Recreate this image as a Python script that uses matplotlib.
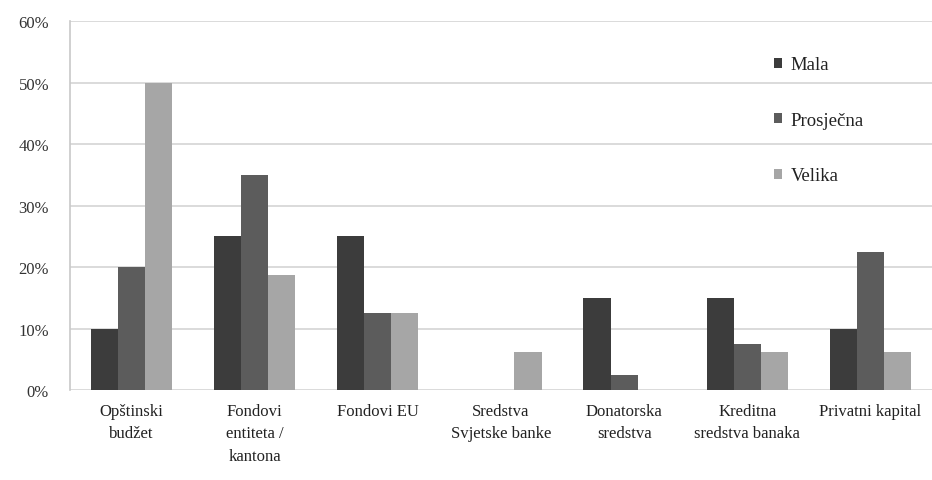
import numpy as np
import matplotlib.pyplot as plt
from matplotlib.ticker import PercentFormatter

# --- DATA ---
categories = ["Opštinski\nbudžet", "Fondovi\nentiteta /\nkantona", "Fondovi EU",
              "Sredstva\nSvjetske banke", "Donatorska\nsredstva",
              "Kreditna\nsredstva banaka", "Privatni kapital"]
series_names = ["Mala", "Prosječna", "Velika"]
mala = [10, 25, 25, 0, 15, 15, 10]
prosjecna = [20, 35, 12.5, 0, 2.5, 7.5, 22.5]
velika = [50, 18.75, 12.5, 6.25, 0, 6.25, 6.25]
colors = ["#3c3c3c", "#5c5c5c", "#a6a6a6"]

plt.rcParams['font.family'] = ['Liberation Serif', 'DejaVu Serif']

fig = plt.figure(figsize=(9.32, 4.81), dpi=100)
ax = fig.add_axes([0.075, 0.187, 0.925, 0.767])

x = np.arange(len(categories))
w = 0.22
for i, (vals, name) in enumerate(zip([mala, prosjecna, velika], series_names)):
    ax.bar(x + (i - 1) * w, vals, width=w, color=colors[i], label=name, zorder=3)

ax.set_xlim(-0.5, len(categories) - 0.5)
ax.set_ylim(0, 60)
ax.set_yticks(np.arange(0, 61, 10))
ax.yaxis.set_major_formatter(PercentFormatter(decimals=0))
ax.grid(axis='y', color='#d4d4d4', linewidth=1.2, zorder=0)

ax.set_xticks(x)
ax.set_xticklabels(categories, fontsize=12, linespacing=1.55, va='top', color='#222222')
ax.tick_params(axis='x', length=0, pad=9)
ax.tick_params(axis='y', length=0, pad=15, labelsize=12, labelcolor='#333333')

for s in ['top', 'right', 'bottom']:
    ax.spines[s].set_visible(False)
ax.spines['left'].set_color('#c8c8c8')
ax.spines['left'].set_linewidth(1.2)

ax.legend(loc='upper left', bbox_to_anchor=(0.797, 0.95), frameon=False,
          fontsize=13.5, handlelength=0.45, handleheight=0.45, handletextpad=0.45,
          labelspacing=2.05, labelcolor='#222222')

fig.savefig('out.png', dpi=100)
